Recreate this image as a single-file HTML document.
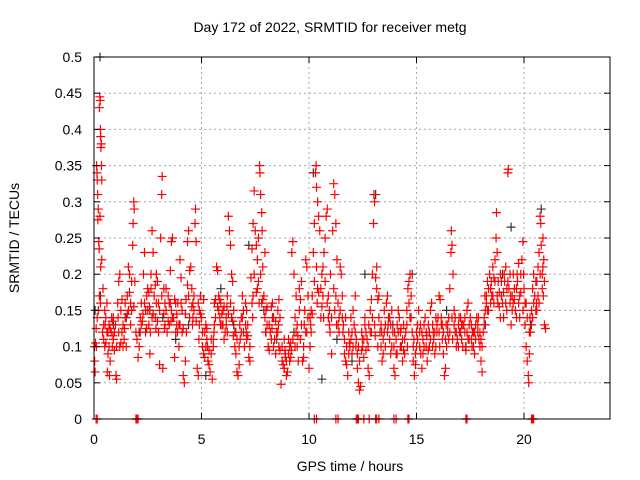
<!DOCTYPE html>
<html><head><meta charset="utf-8"><style>
body{margin:0;background:#fff;}
svg{display:block;font-family:"Liberation Sans",sans-serif;}
</style></head><body>
<svg id="chart" width="640" height="480">
<rect width="640" height="480" fill="#fff"/>
<g id="grid"></g>
<g id="blk"></g>
<g id="red"></g>
<rect x="94" y="57" width="516" height="362" fill="none" stroke="#000" stroke-width="1"/>
<g id="ticks"></g>
<text x="330" y="32" font-size="14" text-anchor="middle">Day 172 of 2022, SRMTID for receiver metg</text>
<text x="350" y="471" font-size="14" text-anchor="middle">GPS time / hours</text>
<text x="19" y="238" font-size="14" text-anchor="middle" transform="rotate(-90 19 238)">SRMTID / TECUs</text>
</svg>
<script>
const xTicks=[0,5,10,15,20];
const yTicks=[0,0.05,0.1,0.15,0.2,0.25,0.3,0.35,0.4,0.45,0.5];
const yTickLabels=["0","0.05","0.1","0.15","0.2","0.25","0.3","0.35","0.4","0.45","0.5"];
const redPoints=[
[0.02,0.1],[0.03,0.08],[0.05,0.065],[0.07,0.105],[0.1,0.125],[0.12,0.35],[0.14,0.34],[0.15,0.33],[0.17,0.31],[0.18,0.275],[0.2,0.29],[0.22,0.245],[0.24,0.235],[0.25,0.43],[0.27,0.445],[0.29,0.44],[0.3,0.4],[0.31,0.39],[0.32,0.375],[0.34,0.38],[0.35,0.35],[0.36,0.33],[0.28,0.28],[0.31,0.21],[0.36,0.22],[0.42,0.18],[0.3,0.16],[0.25,0.17],[0.2,0.15],[0.15,0.14],[0.11,0.1],[0.4,0.12],[0.45,0.13],[0.5,0.1],[0.55,0.14],[0.6,0.12],[0.62,0.065],[0.65,0.09],[0.7,0.13],[0.72,0.06],[0.75,0.08],[0.8,0.12],[0.82,0.14],[0.85,0.1],[0.9,0.11],[0.95,0.095],[1.0,0.13],[1.02,0.06],[1.05,0.055],[1.1,0.16],[1.15,0.19],[1.2,0.2],[1.25,0.15],[1.3,0.12],[1.35,0.1],[1.4,0.11],[1.45,0.14],[1.5,0.1],[1.55,0.17],[1.6,0.21],[1.65,0.2],[1.7,0.16],[1.75,0.15],[1.8,0.24],[1.82,0.27],[1.85,0.3],[1.87,0.29],[1.9,0.19],[1.95,0.12],[2.0,0.11],[2.05,0.085],[2.1,0.1],[2.15,0.14],[2.2,0.16],[2.3,0.2],[2.35,0.23],[2.4,0.12],[2.45,0.17],[2.5,0.15],[2.55,0.13],[2.6,0.09],[2.62,0.12],[2.65,0.18],[2.7,0.26],[2.75,0.23],[2.8,0.17],[2.85,0.14],[2.9,0.2],[2.95,0.19],[3.0,0.16],[3.05,0.075],[3.1,0.25],[3.15,0.31],[3.17,0.335],[3.2,0.07],[3.25,0.18],[3.3,0.13],[3.35,0.15],[3.4,0.12],[3.45,0.17],[3.5,0.16],[3.55,0.205],[3.6,0.245],[3.65,0.25],[3.7,0.14],[3.75,0.085],[3.8,0.12],[3.85,0.13],[3.9,0.16],[3.95,0.1],[4.0,0.22],[4.05,0.195],[4.1,0.15],[4.15,0.06],[4.2,0.05],[4.25,0.08],[4.3,0.12],[4.35,0.245],[4.4,0.26],[4.45,0.205],[4.5,0.21],[4.55,0.18],[4.6,0.16],[4.65,0.15],[4.7,0.27],[4.72,0.29],[4.75,0.245],[4.8,0.07],[4.85,0.06],[4.9,0.13],[4.95,0.17],[5.0,0.14],[5.05,0.12],[5.1,0.165],[5.15,0.12],[5.2,0.1],[5.25,0.11],[5.3,0.08],[5.35,0.075],[5.4,0.065],[5.45,0.09],[5.5,0.055],[5.55,0.11],[5.6,0.13],[5.65,0.165],[5.7,0.21],[5.75,0.205],[5.8,0.15],[5.85,0.14],[5.9,0.16],[5.95,0.13],[6.0,0.15],[6.05,0.11],[6.1,0.12],[6.15,0.14],[6.2,0.17],[6.25,0.28],[6.3,0.26],[6.35,0.24],[6.4,0.2],[6.45,0.19],[6.5,0.15],[6.55,0.1],[6.6,0.09],[6.65,0.065],[6.7,0.06],[6.75,0.075],[6.8,0.11],[6.85,0.14],[6.9,0.17],[6.95,0.12],[7.0,0.1],[7.05,0.16],[7.1,0.15],[7.15,0.13],[7.2,0.085],[7.25,0.08],[7.3,0.195],[7.35,0.235],[7.4,0.27],[7.45,0.315],[7.5,0.26],[7.55,0.24],[7.6,0.22],[7.65,0.25],[7.7,0.35],[7.72,0.34],[7.75,0.31],[7.8,0.285],[7.82,0.26],[7.85,0.21],[7.9,0.17],[7.95,0.23],[8.0,0.15],[8.05,0.13],[8.1,0.1],[8.15,0.095],[8.2,0.12],[8.25,0.155],[8.3,0.16],[8.35,0.14],[8.4,0.11],[8.45,0.09],[8.5,0.12],[8.55,0.15],[8.6,0.165],[8.65,0.14],[8.7,0.048],[8.75,0.08],[8.8,0.075],[8.85,0.07],[8.9,0.09],[8.95,0.06],[9.0,0.065],[9.05,0.11],[9.1,0.1],[9.15,0.085],[9.2,0.23],[9.25,0.245],[9.3,0.2],[9.35,0.14],[9.4,0.12],[9.45,0.1],[9.5,0.08],[9.55,0.18],[9.6,0.165],[9.65,0.19],[9.7,0.08],[9.75,0.085],[9.8,0.15],[9.85,0.22],[9.9,0.21],[9.95,0.17],[10.0,0.07],[10.05,0.1],[10.1,0.12],[10.15,0.145],[10.2,0.23],[10.25,0.27],[10.3,0.34],[10.33,0.35],[10.35,0.32],[10.4,0.3],[10.45,0.28],[10.5,0.26],[10.55,0.18],[10.6,0.155],[10.65,0.21],[10.7,0.23],[10.75,0.25],[10.8,0.28],[10.85,0.29],[10.9,0.17],[10.95,0.13],[11.0,0.2],[11.05,0.09],[11.1,0.26],[11.15,0.325],[11.2,0.31],[11.25,0.27],[11.3,0.22],[11.35,0.16],[11.4,0.14],[11.45,0.21],[11.5,0.2],[11.55,0.17],[11.6,0.13],[11.65,0.09],[11.7,0.08],[11.75,0.075],[11.8,0.06],[11.85,0.12],[11.9,0.1],[11.95,0.14],[12.0,0.09],[12.05,0.15],[12.1,0.13],[12.15,0.17],[12.2,0.11],[12.25,0.07],[12.3,0.05],[12.35,0.04],[12.4,0.045],[12.45,0.12],[12.5,0.1],[12.55,0.085],[12.6,0.13],[12.65,0.095],[12.7,0.11],[12.75,0.07],[12.8,0.06],[12.85,0.15],[12.9,0.165],[12.95,0.2],[13.0,0.27],[13.02,0.31],[13.05,0.3],[13.1,0.195],[13.15,0.18],[13.2,0.165],[13.25,0.14],[13.3,0.12],[13.35,0.1],[13.4,0.08],[13.45,0.09],[13.5,0.12],[13.55,0.13],[13.6,0.16],[13.65,0.17],[13.7,0.14],[13.75,0.11],[13.8,0.09],[13.85,0.1],[13.9,0.12],[13.95,0.07],[14.0,0.06],[14.05,0.11],[14.1,0.13],[14.15,0.15],[14.2,0.14],[14.25,0.12],[14.3,0.1],[14.35,0.08],[14.4,0.095],[14.45,0.11],[14.5,0.12],[14.55,0.15],[14.6,0.18],[14.65,0.19],[14.7,0.2],[14.75,0.17],[14.8,0.12],[14.85,0.08],[14.9,0.06],[14.95,0.075],[15.0,0.1],[15.05,0.13],[15.1,0.15],[15.15,0.12],[15.2,0.09],[15.25,0.07],[15.3,0.11],[15.35,0.13],[15.4,0.14],[15.45,0.1],[15.5,0.08],[15.55,0.095],[15.6,0.12],[15.65,0.15],[15.7,0.16],[15.75,0.13],[15.8,0.11],[15.85,0.09],[15.9,0.1],[15.95,0.12],[16.0,0.14],[16.05,0.17],[16.1,0.165],[16.15,0.13],[16.2,0.11],[16.25,0.09],[16.3,0.06],[16.35,0.07],[16.4,0.1],[16.45,0.12],[16.5,0.14],[16.55,0.18],[16.6,0.23],[16.62,0.26],[16.65,0.24],[16.7,0.2],[16.75,0.15],[16.8,0.12],[16.85,0.1],[16.9,0.11],[16.95,0.13],[17.0,0.12],[17.05,0.14],[17.1,0.11],[17.15,0.1],[17.2,0.13],[17.25,0.12],[17.3,0.095],[17.35,0.15],[17.4,0.16],[17.45,0.13],[17.5,0.14],[17.55,0.11],[17.6,0.12],[17.65,0.1],[17.7,0.09],[17.75,0.13],[17.8,0.14],[17.85,0.12],[17.9,0.11],[17.95,0.1],[18.0,0.08],[18.05,0.065],[18.1,0.12],[18.15,0.14],[18.2,0.15],[18.25,0.17],[18.3,0.19],[18.35,0.18],[18.4,0.2],[18.45,0.16],[18.5,0.17],[18.55,0.21],[18.6,0.195],[18.65,0.22],[18.7,0.25],[18.72,0.285],[18.75,0.23],[18.8,0.19],[18.85,0.175],[18.9,0.2],[18.95,0.17],[19.0,0.16],[19.05,0.14],[19.1,0.19],[19.15,0.21],[19.2,0.18],[19.25,0.34],[19.27,0.345],[19.3,0.18],[19.35,0.16],[19.4,0.13],[19.45,0.17],[19.5,0.2],[19.55,0.18],[19.6,0.15],[19.65,0.14],[19.7,0.19],[19.75,0.215],[19.8,0.17],[19.85,0.2],[19.9,0.22],[19.95,0.245],[20.0,0.18],[20.05,0.13],[20.1,0.1],[20.15,0.08],[20.2,0.06],[20.22,0.05],[20.25,0.09],[20.3,0.12],[20.35,0.15],[20.4,0.18],[20.45,0.2],[20.5,0.17],[20.55,0.15],[20.6,0.19],[20.65,0.21],[20.7,0.23],[20.75,0.28],[20.78,0.27],[20.8,0.24],[20.85,0.2],[20.9,0.17],[20.95,0.13],[21.0,0.125],[20.92,0.22],[20.88,0.25],[20.7,0.16],
[0.5,0.15],[0.6,0.16],[0.7,0.1],[0.9,0.14],[1.2,0.1],[1.3,0.165],[1.6,0.15],[1.7,0.13],[2.2,0.13],[2.4,0.15],[2.5,0.18],[2.7,0.14],[2.9,0.16],[3.0,0.12],[3.3,0.16],[3.5,0.13],[3.6,0.15],[3.8,0.16],[4.0,0.13],[4.1,0.12],[4.4,0.17],[4.6,0.14],[4.9,0.15],[5.1,0.09],[5.2,0.13],[5.6,0.16],[5.8,0.17],[6.0,0.13],[6.2,0.12],[6.4,0.14],[6.6,0.12],[6.9,0.14],[7.1,0.11],[7.4,0.17],[7.6,0.18],[7.8,0.16],[8.0,0.12],[8.3,0.14],[8.6,0.1],[8.9,0.085],[9.1,0.08],[9.4,0.17],[9.6,0.11],[9.9,0.12],[10.1,0.15],[10.4,0.18],[10.6,0.2],[10.9,0.14],[11.2,0.15],[11.4,0.12],[11.7,0.14],[12.0,0.12],[12.3,0.1],[12.6,0.14],[12.9,0.12],[13.2,0.1],[13.5,0.15],[13.8,0.13],[14.1,0.09],[14.4,0.13],[14.7,0.14],[15.0,0.12],[15.3,0.09],[15.6,0.1],[15.9,0.14],[16.2,0.13],[16.5,0.11],[16.8,0.14],[17.1,0.13],[17.4,0.11],[17.7,0.12],[18.0,0.11],[18.3,0.15],[18.6,0.16],[18.9,0.14],[19.2,0.15],[19.5,0.16],[19.8,0.14],[20.1,0.16],[20.4,0.14],[20.6,0.15]
];
const redPointsExtra=[
[0.45,0.11],[0.55,0.105],[0.65,0.12],[0.75,0.125],[0.85,0.135],[0.95,0.12],[1.05,0.1],[1.15,0.12],[1.25,0.105],[1.35,0.13],[1.45,0.16],[1.55,0.145],[1.65,0.175],[1.75,0.19],[1.85,0.155],[2.15,0.12],[2.25,0.135],[2.35,0.16],[2.45,0.125],[2.55,0.175],[2.65,0.2],[2.75,0.145],[2.85,0.185],[2.95,0.135],[3.05,0.15],[3.15,0.17],[3.25,0.145],[3.35,0.18],[3.45,0.135],[3.55,0.16],[3.65,0.14],[3.75,0.165],[3.85,0.145],[3.95,0.13],[4.05,0.16],[4.15,0.125],[4.25,0.145],[4.35,0.185],[4.45,0.14],[4.55,0.155],[4.65,0.17],[4.75,0.135],[4.85,0.16],[4.95,0.145],[5.05,0.1],[5.15,0.085],[5.25,0.125],[5.35,0.095],[5.45,0.11],[5.55,0.1],[5.65,0.14],[5.75,0.155],[5.85,0.165],[5.95,0.145],[6.05,0.155],[6.15,0.13],[6.25,0.145],[6.35,0.16],[6.45,0.135],[6.55,0.12],[6.65,0.11],[6.75,0.1],[6.85,0.12],[6.95,0.15],[7.05,0.13],[7.15,0.115],[7.25,0.1],[7.35,0.16],[7.45,0.2],[7.55,0.175],[7.65,0.19],[7.75,0.2],[7.85,0.165],[7.95,0.14],[8.05,0.155],[8.15,0.13],[8.25,0.11],[8.35,0.1],[8.45,0.135],[8.55,0.12],[8.65,0.095],[8.75,0.1],[8.85,0.11],[8.95,0.08],[9.05,0.09],[9.15,0.105],[9.25,0.11],[9.35,0.1],[9.45,0.13],[9.55,0.15],[9.65,0.13],[9.75,0.1],[9.85,0.12],[9.95,0.14],[10.05,0.14],[10.15,0.17],[10.25,0.19],[10.35,0.21],[10.45,0.175],[10.55,0.14],[10.65,0.17],[10.75,0.19],[10.85,0.16],[10.95,0.15],[11.05,0.14],[11.15,0.18],[11.25,0.17],[11.35,0.13],[11.45,0.15],[11.55,0.14],[11.65,0.11],[11.75,0.1],[11.85,0.09],[11.95,0.11],[12.05,0.1],[12.15,0.12],[12.25,0.09],[12.35,0.08],[12.45,0.095],[12.55,0.11],[12.65,0.12],[12.75,0.1],[12.85,0.12],[12.95,0.14],[13.05,0.13],[13.15,0.21],[13.25,0.17],[13.35,0.13],[13.45,0.11],[13.55,0.1],[13.65,0.12],[13.75,0.14],[13.85,0.15],[13.95,0.1],[14.05,0.09],[14.15,0.12],[14.25,0.1],[14.35,0.11],[14.45,0.09],[14.55,0.13],[14.65,0.16],[14.75,0.14],[14.85,0.1],[14.95,0.09],[15.05,0.11],[15.15,0.1],[15.25,0.12],[15.35,0.1],[15.45,0.12],[15.55,0.13],[15.65,0.11],[15.75,0.1],[15.85,0.12],[15.95,0.13],[16.05,0.12],[16.15,0.14],[16.25,0.12],[16.35,0.11],[16.45,0.13],[16.55,0.12],[16.65,0.14],[16.75,0.13],[16.85,0.12],[16.95,0.1],[17.05,0.12],[17.15,0.13],[17.25,0.14],[17.35,0.12],[17.45,0.11],[17.55,0.13],[17.65,0.12],[17.75,0.11],[17.85,0.13],[17.95,0.12],[18.05,0.1],[18.15,0.13],[18.25,0.16],[18.35,0.15],[18.45,0.18],[18.55,0.17],[18.65,0.19],[18.75,0.17],[18.85,0.155],[18.95,0.19],[19.05,0.175],[19.15,0.16],[19.25,0.19],[19.35,0.2],[19.45,0.15],[19.55,0.165],[19.65,0.18],[19.75,0.16],[19.85,0.175],[19.95,0.15],[20.05,0.16],[20.15,0.14],[20.25,0.12],[20.35,0.13],[20.45,0.16],[20.55,0.19],[20.65,0.17],[20.75,0.2],[20.85,0.18],[20.95,0.19],
[0.52,0.13],[0.88,0.115],[1.12,0.14],[1.42,0.125],[2.28,0.145],[2.58,0.155],[2.88,0.125],[3.28,0.125],[3.58,0.135],[3.88,0.12],[4.28,0.165],[4.58,0.13],[4.88,0.11],[5.28,0.1],[5.58,0.12],[5.88,0.13],[6.18,0.155],[6.48,0.115],[6.78,0.13],[7.08,0.12],[7.38,0.14],[7.68,0.16],[7.98,0.12],[8.28,0.125],[8.58,0.13],[8.88,0.095],[9.18,0.095],[9.48,0.115],[9.78,0.13],[10.08,0.13],[10.38,0.16],[10.68,0.14],[10.98,0.12],[11.28,0.13],[11.58,0.12],[11.88,0.105],[12.18,0.1],[12.48,0.11],[12.78,0.13],[13.08,0.115],[13.38,0.12],[13.68,0.13],[13.98,0.12],[14.28,0.125],[14.58,0.1],[14.88,0.11],[15.18,0.13],[15.48,0.115],[15.78,0.12],[16.08,0.1],[16.38,0.13],[16.68,0.11],[16.98,0.14],[17.28,0.1],[17.58,0.1],[17.88,0.14],[18.18,0.17],[18.48,0.19],[18.78,0.16],[19.08,0.2],[19.38,0.17],[19.68,0.2],[19.98,0.2],[20.28,0.14],[20.58,0.16],[20.88,0.21]
];
const blackPoints=[[0.28,0.5],[0.05,0.15],[0.3,0.17],[0.9,0.13],[1.5,0.14],[2.1,0.12],[2.6,0.15],[3.2,0.14],[3.8,0.11],[4.4,0.13],[5.2,0.06],[5.9,0.18],[6.5,0.13],[7.2,0.24],[7.9,0.15],[8.5,0.11],[9.3,0.12],[10.2,0.34],[10.6,0.055],[11.3,0.11],[12.0,0.08],[12.6,0.2],[13.1,0.31],[13.9,0.13],[14.8,0.2],[15.6,0.12],[16.4,0.15],[17.3,0.1],[18.2,0.13],[19.0,0.2],[19.4,0.265],[20.3,0.13],[20.8,0.29]];
const zeroMarks=[0.1,0.15,1.95,2.0,2.05,10.25,10.35,11.25,11.35,12.2,12.25,12.3,12.55,12.8,13.1,13.15,13.25,13.95,14.05,14.6,14.65,17.3,17.35,20.35,20.4,20.45];

const X0=94,X1=610,Y0=419,Y1=57,XMAX=24,YMAX=0.5;
function sx(h){return X0+(X1-X0)*h/XMAX;}
function sy(v){return Y0-(Y0-Y1)*v/YMAX;}
const NS="http://www.w3.org/2000/svg";
function mk(t,a,p){const e=document.createElementNS(NS,t);for(const k in a)e.setAttribute(k,a[k]);p.appendChild(e);return e;}
const grid=document.getElementById('grid'),ticks=document.getElementById('ticks');
yTicks.forEach((v,i)=>{
  const y=sy(v);
  if(i>0&&i<yTicks.length-1){const g=mk('line',{x1:X0,x2:X1,y1:y,y2:y,stroke:'#a8a8a8','stroke-dasharray':'2,3'},grid);
  
  }
  mk('line',{x1:X0,x2:X0+6,y1:y,y2:y,stroke:'#000'},ticks);
  mk('line',{x1:X1,x2:X1-6,y1:y,y2:y,stroke:'#000'},ticks);
  const t=mk('text',{x:X0-12,y:y+5,'font-size':14,'text-anchor':'end'},ticks);t.textContent=yTickLabels[i];
  
  
});
xTicks.forEach(h=>{
  const x=sx(h);
  if(h>0){const g=mk('line',{x1:x,x2:x,y1:Y0,y2:Y1,stroke:'#a8a8a8','stroke-dasharray':'2,3'},grid);
  
  }
  mk('line',{x1:x,x2:x,y1:Y0,y2:Y0-6,stroke:'#000'},ticks);
  mk('line',{x1:x,x2:x,y1:Y1,y2:Y1+6,stroke:'#000'},ticks);
  const t=mk('text',{x:x,y:Y0+25,'font-size':14,'text-anchor':'middle'},ticks);t.textContent=h;
  
  
});
function cross(h,v,col,g){
  const x=sx(h),y=sy(v);
  const p=mk('path',{d:`M${x-4.5} ${y}H${x+4.5}M${x} ${y-4.5}V${y+4.5}`,stroke:col,'stroke-width':1.2,fill:'none'},g);
  
  
}
const blk=document.getElementById('blk'),red=document.getElementById('red');
blackPoints.forEach(p=>cross(p[0],p[1],'#333',blk));
redPoints.forEach(p=>cross(p[0],p[1],'#ff0000',red));
redPointsExtra.forEach(p=>cross(p[0],p[1],'#ff0000',red));
zeroMarks.forEach(h=>cross(h,0,'#ff0000',red));
</script>
</body></html>
